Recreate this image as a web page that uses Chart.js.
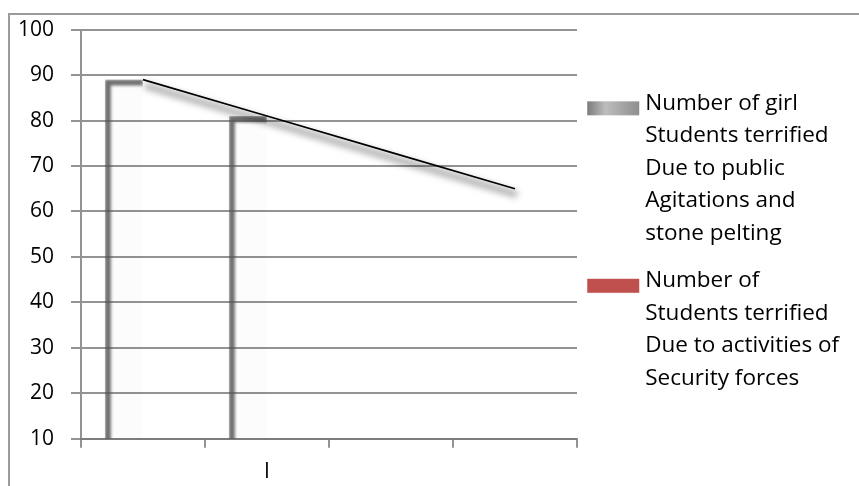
<!DOCTYPE html>
<html>
<head>
<meta charset="utf-8">
<script src="https://cdn.jsdelivr.net/npm/chart.js@4.4.1/dist/chart.umd.min.js"></script>
<style>
    html, body { margin: 0; padding: 0; background: #fff; overflow: hidden; }
    #wrap { position: relative; width: 859px; height: 486px; overflow: hidden; }
    #frame { position: absolute; left: 8px; top: 13px; width: 900px; height: 520px; border: 2px solid #9b9b9b; box-sizing: border-box; }
    #chart { position: absolute; left: 0; top: 0; }
</style>
</head>
<body>
<div id="wrap">
    <div id="frame"></div>
    <canvas id="chart" width="859" height="497"></canvas>
</div>
<script>
// chart data
const categories = ['', 'I', '', ''];
const girlStudents = [89, 81, null, null];
const securityForces = [null, null, null, null];
const trendValues = [89, 81, 73, 65];
const yMin = 10, yMax = 100, yStep = 10;

const seriesNames = [
    ['Number of girl', 'Students terrified', 'Due to public', 'Agitations and', 'stone pelting'],
    ['Number of', 'Students terrified', 'Due to activities of', 'Security forces']
];

const gridGray = 'rgba(120,120,120,0.8)';
const tickFont = { family: 'Open Sans', size: 21 };
const legendFont = { family: 'Open Sans', size: 22.5, lineHeight: 1.444 };

// blur / offset per dataset (bar softness, line drop shadow)
const softMarks = {
    id: 'softMarks',
    beforeDatasetDraw(chart, args) {
        const ds = chart.data.datasets[args.index];
        const ctx = chart.ctx;
        ctx.save();
        if (ds.softBlur) ctx.filter = `blur(${ds.softBlur}px)`;
        if (ds.shift) ctx.translate(ds.shift[0], ds.shift[1]);
    },
    afterDatasetDraw(chart) {
        chart.ctx.restore();
    }
};

// legend: let wrapped text run to the canvas edge, draw swatches beside first line
const legendSwatches = {
    id: 'legendSwatches',
    beforeDraw(chart) {
        chart.legend.right = chart.width;
    },
    afterDraw(chart) {
        const lg = chart.legend;
        const ctx = chart.ctx;
        const lineH = legendFont.size * legendFont.lineHeight;
        const boxW = lg.options.labels.boxWidth;
        lg.legendHitBoxes.forEach((hb, i) => {
            const textX = hb.left + boxW + legendFont.size / 2;
            const x = textX - 58, w = 52, h = 14;
            const y = hb.top + lineH / 2 - h / 2;
            if (i === 0) {
                const g = ctx.createLinearGradient(x, 0, x + w, 0);
                g.addColorStop(0, '#7c7c7c');
                g.addColorStop(0.35, '#bdbdbd');
                g.addColorStop(1, '#8e8e8e');
                ctx.fillStyle = g;
            } else {
                ctx.fillStyle = '#c0504d';
            }
            ctx.fillRect(x, y, w, h);
        });
    }
};

new Chart(document.getElementById('chart'), {
    type: 'bar',
    data: {
        labels: categories,
        datasets: [
            {
                label: seriesNames[0],
                data: girlStudents,
                backgroundColor: 'rgba(0,0,0,0.01)',
                borderColor: 'rgba(85,85,85,0.85)',
                borderWidth: { left: 6, top: 6, right: 0, bottom: 0 },
                borderSkipped: false,
                softBlur: 1.7,
                order: 2
            },
            {
                label: seriesNames[1],
                data: securityForces,
                backgroundColor: '#c0504d',
                order: 2
            },
            {
                type: 'line',
                label: 'trend',
                data: trendValues,
                borderColor: 'rgba(0,0,0,0.3)',
                borderWidth: 7,
                pointRadius: 0,
                softBlur: 3,
                shift: [2, 6],
                order: 1
            },
            {
                type: 'line',
                label: 'trend line',
                data: trendValues,
                borderColor: '#000',
                borderWidth: 1.6,
                pointRadius: 0,
                order: 0
            }
        ]
    },
    options: {
        responsive: false,
        animation: false,
        layout: { padding: { left: 1, top: 15, right: 90, bottom: 0 } },
        datasets: { bar: { categoryPercentage: 0.615, barPercentage: 1 } },
        plugins: {
            tooltip: { enabled: false },
            legend: {
                position: 'right',
                align: 'center',
                fullSize: false,
                title: { display: true, text: '', font: { size: 1 }, padding: { top: 22, bottom: 0 } },
                labels: {
                    color: '#000',
                    font: legendFont,
                    boxWidth: 42,
                    boxHeight: 14,
                    padding: 15,
                    filter: item => item.datasetIndex < 2,
                    generateLabels(chart) {
                        return Chart.defaults.plugins.legend.labels.generateLabels(chart)
                            .map(item => ({ ...item, fillStyle: 'rgba(0,0,0,0)', strokeStyle: 'rgba(0,0,0,0)', lineWidth: 0 }));
                    }
                }
            }
        },
        scales: {
            x: {
                offset: true,
                grid: { display: true, drawOnChartArea: false, color: gridGray, lineWidth: 2, tickLength: 9, offset: true },
                border: { color: gridGray, width: 2 },
                ticks: { color: '#000', font: tickFont, padding: 12, maxRotation: 0, autoSkip: false }
            },
            y: {
                min: yMin,
                max: yMax,
                ticks: { stepSize: yStep, color: '#000', font: tickFont, padding: 17 },
                grid: { color: gridGray, lineWidth: 2, tickLength: 10 },
                border: { color: gridGray, width: 2 }
            }
        }
    },
    plugins: [softMarks, legendSwatches]
});
</script>
</body>
</html>
